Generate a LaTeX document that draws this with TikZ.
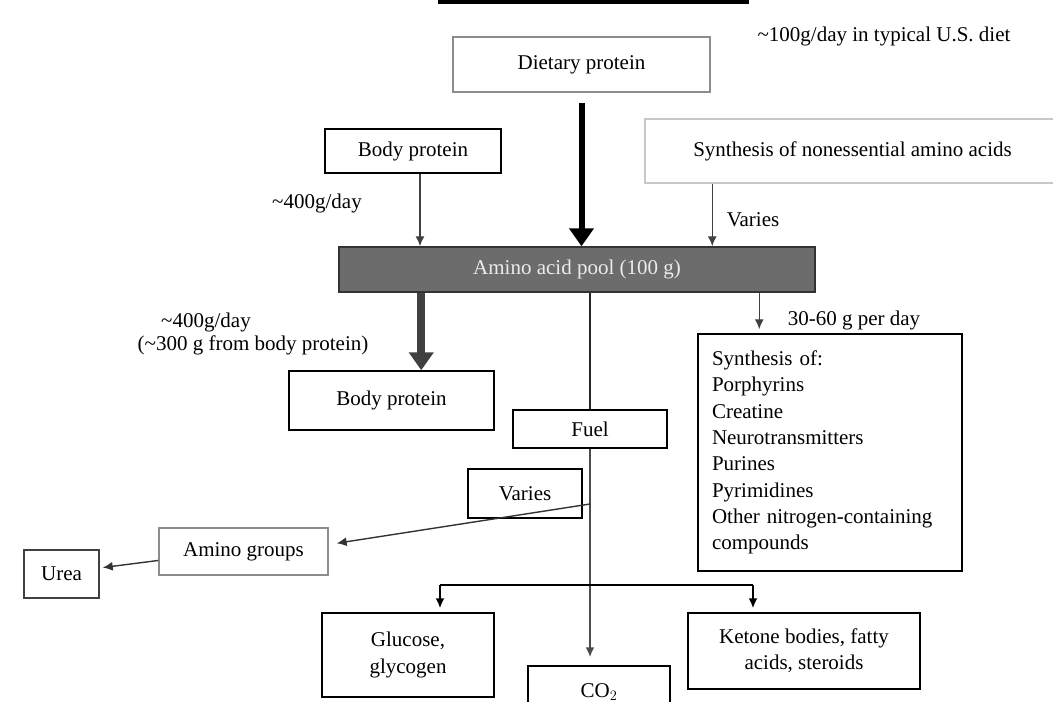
\documentclass[tikz,border=0pt]{standalone}
\usepackage{fontspec}
\setmainfont{Liberation Serif}
\usetikzlibrary{positioning}
\usetikzlibrary{calc}
\usetikzlibrary{arrows.meta}
\definecolor{poolgray}{RGB}{108,108,108}
\definecolor{edgegray}{RGB}{140,140,140}
\definecolor{palegray}{RGB}{200,200,200}
\definecolor{fatgray}{RGB}{64,64,64}
\tikzset{
	every node/.style={font=\fontsize{21}{26.3}\selectfont},
	box/.style={draw,line width=1.5pt,inner sep=0pt,align=center},
	flowthin/.style={line width=1.4pt,-{Latex[length=10pt,width=9pt]}},
	flowfat/.style={line width=6pt,-{Triangle[length=18pt,width=24pt]}},
}

\begin{document}
\begin{tikzpicture}[x=1pt,y=-1pt]
	\fill [white] (0,0) rectangle (1053,702);
	\useasboundingbox (0,0) rectangle (1053,702);

	% title edge.....................
	\draw [line width=5pt] (438,1.5) to (749,1.5);

	% boxes..........................
	\node [box,draw=edgegray,minimum width=257,minimum height=55] (diet) at (581.5,64.5) {Dietary protein};
	\node [box,minimum width=176,minimum height=44] (bodyin) at (413,151) {Body protein};
	\node [box,draw=palegray,minimum width=415,minimum height=64] (synth) at (852.5,151) {Synthesis of nonessential amino acids};
	\node [box,draw=black!80,fill=poolgray,text=gray!15,minimum width=476,minimum height=45] (pool) at (577,269.5) {Amino acid pool (100 g)};
	\node [box,minimum width=205,minimum height=59] (bodyout) at (391.5,400.5) {Body protein};
	\node [box,minimum width=154,minimum height=38] (fuel) at (590,429) {Fuel};
	\node [box,minimum width=114,minimum height=49] (varies) at (525,493.5) {Varies};
	\node [box,draw=edgegray,minimum width=169,minimum height=47] (amino) at (243.5,551.5) {Amino groups};
	\node [box,draw=black!75,minimum width=75,minimum height=48] (urea) at (61.5,574) {Urea};
	\node [box,align=left,text width=236,minimum width=264,minimum height=237,inner sep=14pt] (synthof) at (830,452.5)
		{Synthesis of:\\Porphyrins\\Creatine\\Neurotransmitters\\Purines\\Pyrimidines\\Other nitrogen-containing\\compounds};
	\node [box,minimum width=172,minimum height=84] (glucose) at (408,655) {Glucose,\\glycogen};
	\node [box,minimum width=142,minimum height=52] (co2) at (599,692) {CO$_2$};
	\node [box,minimum width=232,minimum height=76] (ketone) at (804,651) {Ketone bodies, fatty\\acids, steroids};

	% labels.........................
	\node (dietnote) at (884,36) {\textasciitilde100g/day in typical U.S. diet};
	\node (innote) at (317,203) {\textasciitilde400g/day};
	\node (synthnote) at (753,220) {Varies};
	\node (outnote) at (206,322) {\textasciitilde400g/day};
	\node (outnotetwo) at (253,345) {(\textasciitilde300 g from body protein)};
	\node (usenote) at (854,320) {30-60 g per day};

	% into the pool..................
	\draw [flowfat,shorten <=10pt] (diet.south) to (diet.south |- pool.north);
	\draw [flowthin,draw=darkgray] ($(bodyin.south)+(7,0)$) to ($(bodyin.south |- pool.north)+(7,0)$);
	\draw [flowthin,draw=darkgray] ($(synth.south west)+(68,0)$) to ($(synth.south west |- pool.north)+(68,0)$);

	% out of the pool................
	\draw [flowfat,draw=fatgray,line width=8pt] ($(pool.south west)+(83,0)$) to ($(pool.south west |- bodyout.north)+(83,0)$);
	\draw [flowthin,draw=darkgray,shorten >=4pt] ($(pool.south west)+(421,0)$) to ($(pool.south west |- synthof.north)+(421,0)$);
	\draw [line width=1.8pt,draw=black!85] (fuel.north |- pool.south) to (fuel.north);

	% fuel branches..................
	\draw [flowthin,draw=black!70,line width=2.6pt,shorten >=8pt] (fuel.south) to (fuel.south |- co2.north);
	\coordinate (brl) at (440,585);
	\coordinate (brr) at (753,585);
	\coordinate (fork) at (590,504);
	\draw [line width=2pt] (brl) to (brr);
	\draw [flowthin,line width=1.8pt,shorten >=4pt] (brl) to (brl |- glucose.north);
	\draw [flowthin,line width=1.8pt,shorten >=4pt] (brr) to (brr |- ketone.north);
	\draw [flowthin,draw=black!80,shorten >=8pt] (fork) to ($(amino.east)+(0,-7)$);
	\draw [flowthin,draw=black!80,shorten >=3pt] (amino.186) to (urea.9);
\end{tikzpicture}
\end{document}
